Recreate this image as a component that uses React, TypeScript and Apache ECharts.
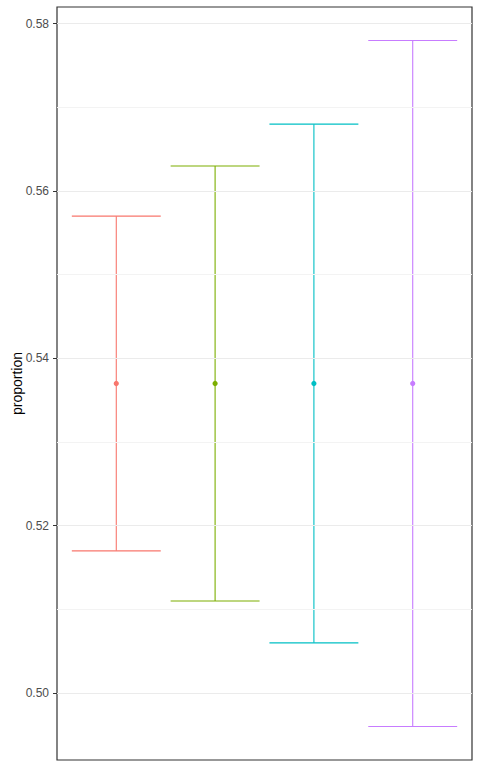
import { useEffect, useRef } from 'react'
import * as echarts from 'echarts'

// four groups, each an interval around the same estimate
const groups = [1, 2, 3, 4]
const estimates = [0.537, 0.537, 0.537, 0.537]
const lowers = [0.517, 0.511, 0.506, 0.496]
const uppers = [0.557, 0.563, 0.568, 0.578]
const colors = ['#F8766D', '#7CAE00', '#00BFC4', '#C77CFF']

const yTicks = [0.5, 0.52, 0.54, 0.56, 0.58]
const yMinorTicks = [0.51, 0.53, 0.55, 0.57]

export default function App() {
  const chartRef = useRef<HTMLDivElement>(null)

  useEffect(() => {
    if (!chartRef.current) return
    const chart = echarts.init(chartRef.current, undefined, { renderer: 'svg' })

    const data = groups.map((g, i) => [g, lowers[i], uppers[i], estimates[i]])

    chart.setOption({
      animation: false,
      textStyle: { fontFamily: 'Liberation Sans, Arial, sans-serif' },
      grid: {
        left: 57,
        right: 8,
        top: 7,
        bottom: 8,
        outerBoundsMode: 'none',
        containLabel: false,
        show: true,
        borderColor: '#333333',
        borderWidth: 1.2,
        backgroundColor: '#ffffff',
      },
      xAxis: {
        type: 'value',
        min: 0.4,
        max: 4.6,
        show: false,
      },
      yAxis: {
        type: 'value',
        min: 0.492,
        max: 0.582,
        name: 'proportion',
        nameLocation: 'middle',
        nameGap: 33,
        nameRotate: 90,
        nameMoveOverlap: false,
        nameTextStyle: { color: '#000000', fontSize: 14 },
        axisLine: { show: false },
        axisTick: {
          show: true,
          length: 4,
          lineStyle: { color: '#333333', width: 1 },
          customValues: yTicks,
        },
        axisLabel: {
          color: '#4D4D4D',
          fontSize: 12,
          margin: 8,
          customValues: yTicks,
          formatter: (v: number) => v.toFixed(2),
        },
        splitLine: { show: false },
      },
      series: [
        {
          name: 'gridlines',
          type: 'line',
          data: [],
          silent: true,
          z: 1,
          markLine: {
            silent: true,
            symbol: 'none',
            label: { show: false },
            animation: false,
            data: [
              ...yMinorTicks.map(v => ({ yAxis: v, lineStyle: { color: '#F3F3F3', width: 1, type: 'solid' } })),
              ...yTicks.map(v => ({ yAxis: v, lineStyle: { color: '#EBEBEB', width: 1, type: 'solid' } })),
            ],
          },
        },
        {
          name: 'intervals',
          type: 'custom',
          z: 3,
          data,
          renderItem: (params: any, api: any) => {
            const x = api.value(0)
            const lo = api.coord([x, api.value(1)])
            const hi = api.coord([x, api.value(2)])
            const mid = api.coord([x, api.value(3)])
            const half = api.size([0.9, 0])[0] / 2
            const color = colors[params.dataIndex]
            const style = { stroke: color, lineWidth: 1.1 }
            return {
              type: 'group',
              children: [
                { type: 'line', shape: { x1: hi[0], y1: hi[1], x2: lo[0], y2: lo[1] }, style },
                { type: 'line', shape: { x1: hi[0] - half, y1: hi[1], x2: hi[0] + half, y2: hi[1] }, style },
                { type: 'line', shape: { x1: lo[0] - half, y1: lo[1], x2: lo[0] + half, y2: lo[1] }, style },
                { type: 'circle', shape: { cx: mid[0], cy: mid[1], r: 2.6 }, style: { fill: color } },
              ],
            }
          },
        },
      ],
    })

    return () => {
      chart.dispose()
    }
  }, [])

  return (
    <div
      ref={chartRef}
      style={{ position: 'fixed', left: 0, top: 0, width: 480, height: 768, background: '#ffffff' }}
    />
  )
}
